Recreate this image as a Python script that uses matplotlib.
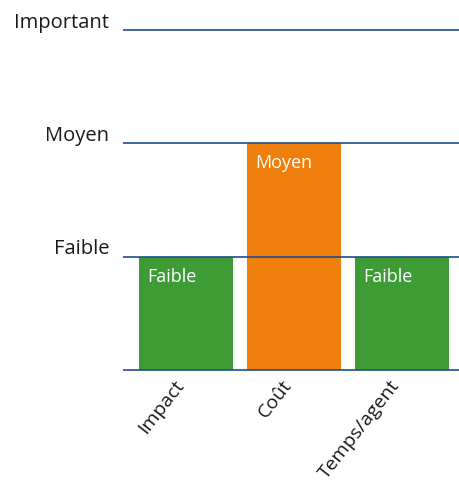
import matplotlib.pyplot as plt

plt.rcParams['font.family'] = ['Open Sans', 'DejaVu Sans']

categories = ["Impact", "Coût", "Temps/agent"]
values = [1, 2, 1]
bar_labels = ["Faible", "Moyen", "Faible"]
bar_colors = ["#3f9b35", "#ef7f0c", "#3f9b35"]
level_names = ["Faible", "Moyen", "Important"]
level_values = [1, 2, 3]

fig = plt.figure(figsize=(4.59, 4.92), dpi=100)
W, H = 459, 492
# axes: left at x=123, baseline y=370, top line y=30 -> value 3
bottom_px, top_px = 370, 30
unit = (bottom_px - top_px) / 3.0
ax_top_px = top_px - 0.05 * unit
ax_bot_px = bottom_px + 0.05 * unit
ax = fig.add_axes([123 / W, 1 - ax_bot_px / H, 1 - 123 / W, (ax_bot_px - ax_top_px) / H])
ax.set_ylim(-0.05, 3.05)
ax.set_xlim(-0.583, 2.528)
ax.axis("off")

x = range(len(categories))
ax.bar(x, values, width=0.87, color=bar_colors, zorder=1)

for lv in [0] + level_values:
    ax.axhline(lv, color="#1f4e8c", lw=1.2, zorder=3)

for lv, name in zip(level_values, level_names):
    ax.annotate(name, xy=(0, lv), xycoords=("axes fraction", "data"),
                xytext=(-10, -2), textcoords="offset points",
                ha="right", va="bottom", fontsize=14.5, color="#1a1a1a")

for xi, v, lab in zip(x, values, bar_labels):
    ax.annotate(lab, xy=(xi - 0.435, v), xytext=(6, -8), textcoords="offset points",
                ha="left", va="top", fontsize=13, color="white", zorder=4)

for xi, cat in zip(x, categories):
    ax.annotate(cat, xy=(xi, 0), xytext=(-9, -5), textcoords="offset points",
                ha="right", va="top", rotation=52, rotation_mode="anchor",
                fontsize=14, color="#1a1a1a", annotation_clip=False)

fig.savefig("out.png", dpi=100)
